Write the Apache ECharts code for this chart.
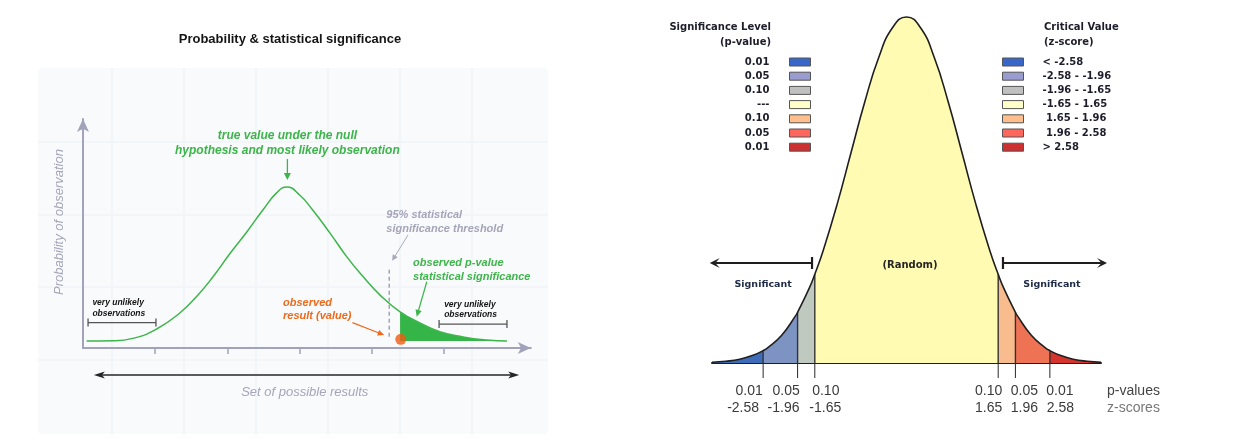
<!DOCTYPE html>
<html><head><meta charset="utf-8">
<script src="https://cdn.jsdelivr.net/npm/echarts@6/dist/echarts.min.js"></script>
<style>html,body{margin:0;padding:0;background:#fff}#c{width:1243px;height:440px}</style>
</head><body><div id="c"></div>
<script>
// ================= LEFT PANEL DATA (x: result units, y: relative probability) =================
const leftCurveX = [0.05,0.42,0.69,1.02,1.34,1.57,1.80,2.04,2.27,2.49,2.68,2.82,3.00,3.18,3.42,3.65,3.88,4.11,4.39,4.67,4.94,5.26,5.59,5.87];
const leftCurveY = [3.0,3.1,4.1,8.1,14.9,21.8,30.3,40.4,49.5,58.7,66.0,68.5,65.1,58.7,48.9,38.9,30.3,22.6,15.4,10.6,6.9,4.7,3.4,3.0];
const leftTicks = [1,2,3,4,5];
const curveBase = 3.0;
const shadeFrom = 4.39;
const observedPoint = [4.40, 3.7];
const thresholdLine = [4.24, 4.8, 34.3];           // x, y from, y to
const leftNoteText = [
  'true value under the null\nhypothesis and most likely observation',
  '95% statistical\nsignificance threshold',
  'observed p-value\nstatistical significance',
  'observed\nresult (value)',
  'very unlikely\nobservations',
  'very unlikely\nobservations',
  'Set of possible results',
  'Probability of observation'
];
const leftNoteAt = [[2.83,87.0],[4.20,53.7],[4.57,33.2],[2.77,16.5],[0.13,16.9],[5.00,16.3],[3.07,-19.1],[-0.32,53.6]];
const leftArrowAt = [[2.83,80.4,2.83,71.5],[4.50,48.1,4.28,37.1],[4.76,28.2,4.62,13.3],[3.73,10.8,4.17,5.5]];
const bracketAt = [[0.07,1.01,10.8],[4.93,5.87,10.2]];
const rangeArrowAt = [[0.15,6.04,-11.5]];

// ================= RIGHT PANEL DATA (standard normal) =================
const zGrid = [-3.5,-3.25,-3,-2.75,-2.5,-2.25,-2,-1.75,-1.5,-1.25,-1,-0.75,-0.5,-0.25,0,0.25,0.5,0.75,1,1.25,1.5,1.75,2,2.25,2.5,2.75,3,3.25,3.5];
const density = [0.0009,0.0020,0.0044,0.0091,0.0175,0.0317,0.0540,0.0863,0.1295,0.1826,0.2420,0.3011,0.3521,0.3867,0.3989,0.3867,0.3521,0.3011,0.2420,0.1826,0.1295,0.0863,0.0540,0.0317,0.0175,0.0091,0.0044,0.0020,0.0009];
const zCuts = [-2.58,-1.96,-1.65,1.65,1.96,2.58];
const cutDensity = [0.0143,0.0584,0.1023,0.1023,0.0584,0.0143];
const pTickLabels = ['0.01','0.05','0.10','0.10','0.05','0.01'];
const zTickLabels = ['-2.58','-1.96','-1.65','1.65','1.96','2.58'];
const bandNames = ['< -2.58','-2.58 - -1.96','-1.96 - -1.65','-1.65 - 1.65',' 1.65 - 1.96',' 1.96 - 2.58','> 2.58'];
const bandPLabels = ['0.01','0.05','0.10','---','0.10','0.05','0.01'];
const rightNoteText = ['(Random)','Significant','Significant','p-values','z-scores'];
const rightNoteAt = [[0.063,0.113],[-2.58,0.0899],[2.618,0.0899],[3.608,-0.0329],[3.608,-0.0519]];
const rightArrowAt = [[-1.70,0.1153,-3.54,0.1153],[1.736,0.1153,3.608,0.1153]];

// ================= STYLES =================
const FONT_L = '"Liberation Sans", Arial, Helvetica, sans-serif';
const FONT_R = '"DejaVu Sans", Verdana, sans-serif';
const GREEN = '#3db54a', ORANGE = '#ee6a1c', GREYTXT = '#a4a5b8', AXIS = '#a2a3ba';
const bandFill = ['#3f6cb8','#7d93c1','#c0c9bf','#fffbb2','#f8bc8f','#ee7355','#d5352d'];
const bandSwatch = ['#3867c9','#9a9bcf','#c0c0c0','#ffffc8','#ffbf8c','#ff675c','#cc3131'];
const leftNoteStyle = [
  {fill:GREEN, fontSize:12, fontWeight:'bold', fontStyle:'italic', lineHeight:15, align:'center'},
  {fill:GREYTXT, fontSize:11, fontWeight:'bold', fontStyle:'italic', lineHeight:13.5, align:'left'},
  {fill:GREEN, fontSize:11, fontWeight:'bold', fontStyle:'italic', lineHeight:13.5, align:'left'},
  {fill:ORANGE, fontSize:11, fontWeight:'bold', fontStyle:'italic', lineHeight:13.5, align:'left'},
  {fill:'#151515', fontSize:8.5, fontWeight:'bold', fontStyle:'italic', lineHeight:10.5, align:'left'},
  {fill:'#151515', fontSize:8.5, fontWeight:'bold', fontStyle:'italic', lineHeight:10.5, align:'left'},
  {fill:GREYTXT, fontSize:13, fontWeight:'normal', fontStyle:'italic', lineHeight:15, align:'center'},
  {fill:GREYTXT, fontSize:13, fontWeight:'normal', fontStyle:'italic', lineHeight:15, align:'center', rotate:true}
];
const leftArrowStyle = [
  {color:GREEN, width:1.3, headLen:7, headW:3.5},
  {color:'#a9aabb', width:1, headLen:6, headW:3},
  {color:GREEN, width:1.2, headLen:7, headW:3.2},
  {color:ORANGE, width:1.2, headLen:6.5, headW:3}
];
const rightNoteStyle = [
  {fill:'#262626', fontSize:10, fontWeight:'bold', fontFamily:FONT_R, align:'center'},
  {fill:'#1d2a48', fontSize:9.5, fontWeight:'bold', fontFamily:FONT_R, align:'center'},
  {fill:'#1d2a48', fontSize:9.5, fontWeight:'bold', fontFamily:FONT_R, align:'center'},
  {fill:'#444', fontSize:14, fontWeight:'normal', fontFamily:FONT_L, align:'left'},
  {fill:'#777', fontSize:14, fontWeight:'normal', fontFamily:FONT_L, align:'left'}
];
const pShift = [-14,-11.5,11,-9.5,9,10];   // label offsets from tick, px (style)
const zShift = [-20,-14,10.5,-9.5,9,10.5];

// ================= HELPERS =================
function arrowEls(p1, p2, o) {
  const dx = p2[0]-p1[0], dy = p2[1]-p1[1], L = Math.hypot(dx,dy) || 1;
  const ux = dx/L, uy = dy/L, nx = -uy, ny = ux;
  const back = o.headLen * (o.notch ? o.notch : 0.85);
  const s = o.both ? [p1[0]+ux*back, p1[1]+uy*back] : p1;
  const e = [p2[0]-ux*back, p2[1]-uy*back];
  const els = [{type:'line', shape:{x1:s[0],y1:s[1],x2:e[0],y2:e[1]}, style:{stroke:o.color, lineWidth:o.width}}];
  const head = (tip, vx, vy) => {
    const bx = tip[0]-vx*o.headLen, by = tip[1]-vy*o.headLen;
    const pts = [[tip[0],tip[1]],[bx+nx*o.headW, by+ny*o.headW]];
    if (o.notch) pts.push([tip[0]-vx*o.headLen*o.notch, tip[1]-vy*o.headLen*o.notch]);
    pts.push([bx-nx*o.headW, by-ny*o.headW]);
    return {type:'polygon', shape:{points:pts}, style:{fill:o.color}};
  };
  els.push(head(p2, ux, uy));
  if (o.both) els.push(head(p1, -ux, -uy));
  if (o.bar) els.push({type:'line', shape:{x1:p1[0]+nx*o.bar, y1:p1[1]+ny*o.bar, x2:p1[0]-nx*o.bar, y2:p1[1]-ny*o.bar}, style:{stroke:o.color, lineWidth:o.width}});
  return els;
}

// ================= BUILD SERIES DATA =================
const leftCurve = leftCurveX.map((x,i)=>[x, leftCurveY[i]]);
const leftShade = leftCurve.filter(p => p[0] >= shadeFrom);

const edges = [zGrid[0], ...zCuts, zGrid[zGrid.length-1]];
const edgeDens = [density[0], ...cutDensity, density[density.length-1]];
const bands = bandNames.map((n,i) => {
  const lo = edges[i], hi = edges[i+1];
  const pts = [[lo, edgeDens[i]]];
  zGrid.forEach((z,k) => { if (z > lo + 1e-9 && z < hi - 1e-9) pts.push([z, density[k]]); });
  pts.push([hi, edgeDens[i+1]]);
  return pts;
});
const outline = zGrid.map((z,k)=>[z, density[k]]).concat(zCuts.map((z,i)=>[z, cutDensity[i]])).sort((a,b)=>a[0]-b[0]);

const series = [];
// ---- left panel ----
series.push({type:'line', xAxisIndex:0, yAxisIndex:0, data:leftShade, smooth:true, showSymbol:false, silent:true, z:2,
  lineStyle:{width:0}, areaStyle:{color:'#35b548', opacity:1, origin:curveBase}});
series.push({type:'line', xAxisIndex:0, yAxisIndex:0, data:leftCurve, smooth:true, showSymbol:false, silent:true, z:3,
  lineStyle:{color:GREEN, width:1.5}});
series.push({type:'custom', xAxisIndex:0, yAxisIndex:0, silent:true, clip:false, z:3, data:[thresholdLine],
  renderItem:(params, api) => {
    const a = api.coord([api.value(0), api.value(1)]), b = api.coord([api.value(0), api.value(2)]);
    return {type:'line', shape:{x1:a[0],y1:a[1],x2:b[0],y2:b[1]}, style:{stroke:'#9c9daf', lineWidth:1.4, lineDash:[4,3]}};
  }});
series.push({type:'scatter', xAxisIndex:0, yAxisIndex:0, data:[observedPoint], symbolSize:11, silent:true, z:5,
  itemStyle:{color:'#f05a12'}});
series.push({type:'custom', xAxisIndex:0, yAxisIndex:0, silent:true, clip:false, z:4, data:leftArrowAt,
  renderItem:(params, api) => {
    const p1 = api.coord([api.value(0), api.value(1)]), p2 = api.coord([api.value(2), api.value(3)]);
    return {type:'group', children: arrowEls(p1, p2, leftArrowStyle[params.dataIndex])};
  }});
series.push({type:'custom', xAxisIndex:0, yAxisIndex:0, silent:true, clip:false, z:4, data:bracketAt,
  renderItem:(params, api) => {
    const a = api.coord([api.value(0), api.value(2)]), b = api.coord([api.value(1), api.value(2)]);
    const st = {stroke:'#555', lineWidth:1.3};
    return {type:'group', children:[
      {type:'line', shape:{x1:a[0],y1:a[1],x2:b[0],y2:b[1]}, style:st},
      {type:'line', shape:{x1:a[0],y1:a[1]-4,x2:a[0],y2:a[1]+4}, style:st},
      {type:'line', shape:{x1:b[0],y1:b[1]-4,x2:b[0],y2:b[1]+4}, style:st}]};
  }});
series.push({type:'custom', xAxisIndex:0, yAxisIndex:0, silent:true, clip:false, z:4, data:rangeArrowAt,
  renderItem:(params, api) => {
    const a = api.coord([api.value(0), api.value(2)]), b = api.coord([api.value(1), api.value(2)]);
    return {type:'group', children: arrowEls(a, b, {color:'#262626', width:1.4, headLen:11, headW:3.5, both:true, notch:0.75})};
  }});
series.push({type:'custom', xAxisIndex:0, yAxisIndex:0, silent:true, clip:false, z:4, data:leftNoteAt,
  renderItem:(params, api) => {
    const p = api.coord([api.value(0), api.value(1)]);
    const s = leftNoteStyle[params.dataIndex];
    return {type:'text', x:p[0], y:p[1], rotation: s.rotate ? Math.PI/2 : 0,
      style:{text:leftNoteText[params.dataIndex], fill:s.fill, fontSize:s.fontSize, fontWeight:s.fontWeight,
        fontStyle:s.fontStyle, fontFamily:FONT_L, lineHeight:s.lineHeight, align:s.align, verticalAlign:'middle'}};
  }});

// ---- right panel ----
bands.forEach((pts,i) => {
  series.push({type:'line', name:bandNames[i], xAxisIndex:1, yAxisIndex:1, data:pts, smooth:true, showSymbol:false, silent:true, z:2,
    color:bandSwatch[i], lineStyle:{width:0, color:bandSwatch[i]}, areaStyle:{color:bandFill[i], opacity:1}});
});
series.push({type:'line', xAxisIndex:1, yAxisIndex:1, data:outline, smooth:true, showSymbol:false, silent:true, z:3,
  lineStyle:{color:'#1f1f1f', width:1.6}});
// boundary lines, ticks below the axis and two-line tick labels
series.push({type:'custom', xAxisIndex:1, yAxisIndex:1, silent:true, clip:false, z:3,
  data:zCuts.map((z,i)=>[z, cutDensity[i]]),
  renderItem:(params, api) => {
    const i = params.dataIndex;
    const a = api.coord([api.value(0), 0]), b = api.coord([api.value(0), api.value(1)]);
    const txt = (t, dx, dy) => ({type:'text', x:a[0]+dx, y:a[1]+dy,
      style:{text:t, fill:'#3a3a3a', fontSize:14, fontFamily:FONT_L, align:'center', verticalAlign:'middle'}});
    return {type:'group', children:[
      {type:'line', shape:{x1:a[0],y1:a[1],x2:b[0],y2:b[1]}, style:{stroke:'#333', lineWidth:1.4}},
      {type:'line', shape:{x1:a[0],y1:a[1],x2:a[0],y2:a[1]+15}, style:{stroke:'#2a2a2a', lineWidth:1}},
      txt(pTickLabels[i], pShift[i], 28.5),
      txt(zTickLabels[i], zShift[i], 45.5)
    ]};
  }});
series.push({type:'custom', xAxisIndex:1, yAxisIndex:1, silent:true, clip:false, z:4, data:rightArrowAt,
  renderItem:(params, api) => {
    const p1 = api.coord([api.value(0), api.value(1)]), p2 = api.coord([api.value(2), api.value(3)]);
    return {type:'group', children: arrowEls(p1, p2, {color:'#1e1e1e', width:2.2, headLen:10, headW:5, notch:0.55, bar:6})};
  }});
series.push({type:'custom', xAxisIndex:1, yAxisIndex:1, silent:true, clip:false, z:4, data:rightNoteAt,
  renderItem:(params, api) => {
    const p = api.coord([api.value(0), api.value(1)]);
    const s = rightNoteStyle[params.dataIndex];
    return {type:'text', x:p[0], y:p[1],
      style:{text:rightNoteText[params.dataIndex], fill:s.fill, fontSize:s.fontSize, fontWeight:s.fontWeight,
        fontFamily:s.fontFamily, align:s.align, verticalAlign:'middle'}};
  }});

// ---- decorative background of the left panel and titles ----
const graphic = [
  {type:'rect', z:-10, shape:{x:38, y:68, width:510, height:366, r:4}, style:{fill:'#f8fafc'}, silent:true}
];
[112,184,256,328,400,472].forEach(x => graphic.push({type:'line', z:-9, silent:true, shape:{x1:x,y1:68,x2:x,y2:434}, style:{stroke:'#eef1f6', lineWidth:1}}));
[142,215,287,360].forEach(y => graphic.push({type:'line', z:-9, silent:true, shape:{x1:38,y1:y,x2:548,y2:y}, style:{stroke:'#eef1f6', lineWidth:1}}));
graphic.push({type:'text', x:290, y:39, silent:true, style:{text:'Probability & statistical significance', fill:'#151515', fontSize:13, fontWeight:'bold', fontFamily:FONT_L, align:'center', verticalAlign:'middle'}});
graphic.push({type:'text', x:771, y:27, silent:true, style:{text:'Significance Level', fill:'#1d1d2b', fontSize:10, fontWeight:'bold', fontFamily:FONT_R, align:'right', verticalAlign:'middle'}});
graphic.push({type:'text', x:771, y:42.5, silent:true, style:{text:'(p-value)', fill:'#1d1d2b', fontSize:10, fontWeight:'bold', fontFamily:FONT_R, align:'right', verticalAlign:'middle'}});
graphic.push({type:'text', x:1044, y:27, silent:true, style:{text:'Critical Value', fill:'#1d1d2b', fontSize:10, fontWeight:'bold', fontFamily:FONT_R, align:'left', verticalAlign:'middle'}});
graphic.push({type:'text', x:1044, y:42.5, silent:true, style:{text:'(z-score)', fill:'#1d1d2b', fontSize:10, fontWeight:'bold', fontFamily:FONT_R, align:'left', verticalAlign:'middle'}});

const legendText = {fontFamily:FONT_R, fontWeight:'bold', fontSize:10, color:'#1d1d2b', lineHeight:12};
const option = {
  animation:false,
  backgroundColor:'#ffffff',
  textStyle:{fontFamily:FONT_L},
  tooltip:{show:false},
  graphic: graphic,
  legend:[
    {data:bandNames, orient:'vertical', right:432, top:56, padding:0, itemWidth:21, itemHeight:8, itemGap:2.2,
     align:'right', icon:'rect', selectedMode:false, itemStyle:{borderColor:'#555', borderWidth:1},
     formatter: n => bandPLabels[bandNames.indexOf(n)],
     textStyle:Object.assign({padding:[0,15,0,0]}, legendText)},
    {data:bandNames, orient:'vertical', left:1002, top:56, padding:0, itemWidth:21, itemHeight:8, itemGap:2.2,
     align:'left', icon:'rect', selectedMode:false, itemStyle:{borderColor:'#555', borderWidth:1},
     formatter: n => n,
     textStyle:Object.assign({padding:[0,0,0,14]}, legendText)}
  ],
  grid:[
    {left:83, top:119, width:447.8, height:229, outerBoundsMode:'none', containLabel:false},
    {left:712, top:16, width:389, height:347, outerBoundsMode:'none', containLabel:false}
  ],
  xAxis:[
    {gridIndex:0, type:'value', min:0, max:6.2,
     axisLine:{show:true, onZero:false, symbol:['none','arrow'], symbolSize:[9,13], lineStyle:{color:AXIS, width:2}},
     axisTick:{show:true, customValues:leftTicks, length:6, inside:false, lineStyle:{color:AXIS, width:1.5}},
     axisLabel:{show:false}, splitLine:{show:false}},
    {gridIndex:1, type:'value', min:-3.5, max:3.5,
     axisLine:{show:true, onZero:false, lineStyle:{color:'#1e1e1e', width:2}},
     axisTick:{show:false}, axisLabel:{show:false}, splitLine:{show:false}}
  ],
  yAxis:[
    {gridIndex:0, type:'value', min:0, max:97.45,
     axisLine:{show:true, onZero:false, symbol:['none','arrow'], symbolSize:[9,13], lineStyle:{color:AXIS, width:2}},
     axisTick:{show:false}, axisLabel:{show:false}, splitLine:{show:false}},
    {gridIndex:1, type:'value', min:0, max:0.4, show:false, splitLine:{show:false}}
  ],
  series: series
};
const chart = echarts.init(document.getElementById('c'), null, {renderer:'canvas'});
chart.setOption(option);
</script>
</body></html>
